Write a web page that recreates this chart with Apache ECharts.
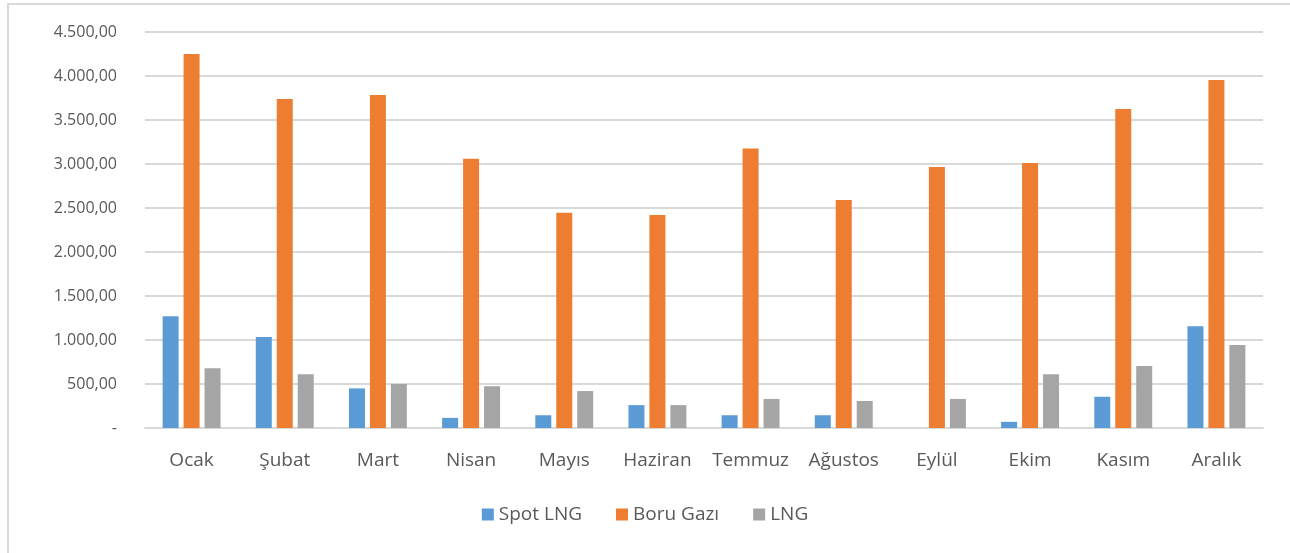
<!DOCTYPE html>
<html lang="tr">
<head>
    <meta charset="UTF-8">
    <title>LNG</title>
    <script src="https://cdn.jsdelivr.net/npm/echarts@6/dist/echarts.min.js"></script>
    <style>
        *{
            padding:0;
            margin:0;
        }
        html,body{
            width:100%;
            height:100%;
            background:#fff;
        }
        #main{
            position:absolute;
            left:7px;
            top:3px;
            right:0;
            bottom:0;
            border-left:2px solid #d9d9d9;
            border-top:2px solid #d9d9d9;
        }
        #chart{
            position:absolute;
            left:0;
            top:0;
            width:1290px;
            height:553px;
        }
    </style>
</head>
<body>
<div id="main"></div>
<div id="chart"></div>
<script>
    var aylar = ['Ocak','Şubat','Mart','Nisan','Mayıs','Haziran','Temmuz','Ağustos','Eylül','Ekim','Kasım','Aralık'];
    var spotLng = [1270,1035,450,115,145,260,145,145,0,70,355,1155];
    var boruGazi = [4250,3740,3785,3060,2445,2420,3175,2590,2965,3010,3625,3955];
    var lng = [680,612,500,475,420,260,330,307,330,612,705,943];

    function fmt(v){
        if(v === 0) return '-';
        var s = Math.round(v).toString().replace(/\B(?=(\d{3})+(?!\d))/g, '.');
        return s + ',00';
    }

    var myChart = echarts.init(document.getElementById('chart'));
    var option = {
        animation:false,
        textStyle:{
            fontFamily:'Open Sans'
        },
        grid:{
            left:145,
            right:27,
            top:32,
            bottom:125
        },
        legend:{
            data:['Spot LNG','Boru Gazı','LNG'],
            bottom:24,
            left:'center',
            itemWidth:12,
            itemHeight:12,
            itemGap:34,
            icon:'rect',
            textStyle:{
                color:'#595959',
                fontSize:19
            }
        },
        xAxis:{
            type:'category',
            data:aylar,
            axisLine:{
                lineStyle:{color:'#d9d9d9', width:2}
            },
            axisTick:{show:false},
            axisLabel:{
                color:'#595959',
                fontSize:19,
                margin:23,
                interval:0
            }
        },
        yAxis:{
            type:'value',
            min:0,
            max:4500,
            interval:500,
            axisLine:{show:false},
            axisTick:{show:false},
            splitLine:{
                lineStyle:{color:'#d9d9d9', width:2}
            },
            axisLabel:{
                color:'#595959',
                fontSize:16,
                margin:28,
                formatter:fmt
            }
        },
        series:[
            {
                name:'Spot LNG',
                type:'bar',
                data:spotLng,
                barWidth:16,
                barGap:'31%',
                itemStyle:{color:'#5b9bd5'}
            },
            {
                name:'Boru Gazı',
                type:'bar',
                data:boruGazi,
                barWidth:16,
                barGap:'31%',
                itemStyle:{color:'#ed7d31'}
            },
            {
                name:'LNG',
                type:'bar',
                data:lng,
                barWidth:16,
                barGap:'31%',
                itemStyle:{color:'#a5a5a5'}
            }
        ]
    };
    myChart.setOption(option);
</script>
</body>
</html>
